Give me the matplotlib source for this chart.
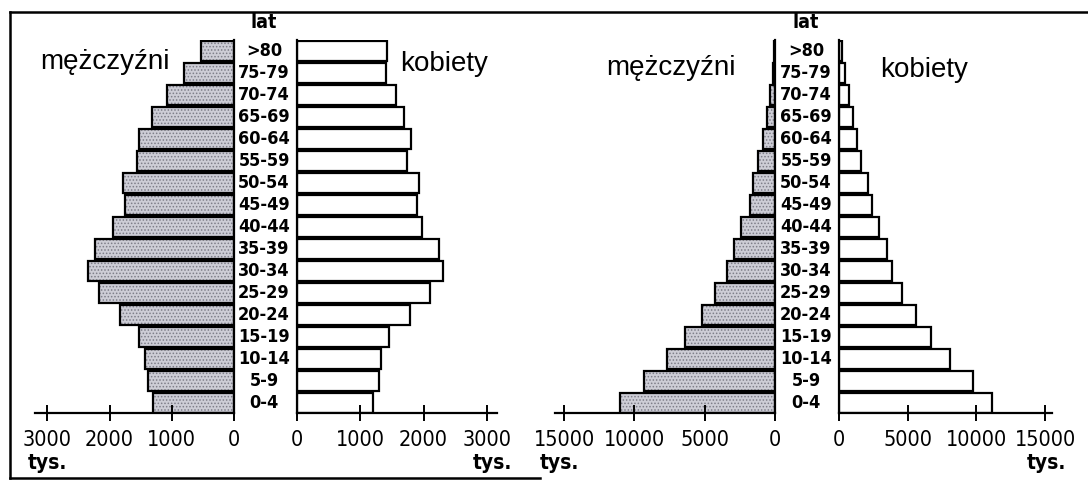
import matplotlib.pyplot as plt
import matplotlib.transforms as mtransforms
from matplotlib.lines import Line2D

plt.rcParams['hatch.linewidth'] = 0.7

# age groups, bottom to top
ages = ["0-4", "5-9", "10-14", "15-19", "20-24", "25-29", "30-34", "35-39",
        "40-44", "45-49", "50-54", "55-59", "60-64", "65-69", "70-74",
        "75-79", ">80"]

# left pyramid (tys.)
men_a = [1300, 1385, 1430, 1530, 1840, 2170, 2340, 2240, 1950, 1750,
         1790, 1555, 1530, 1320, 1080, 800, 530]
women_a = [1200, 1300, 1330, 1450, 1780, 2100, 2300, 2250, 1980, 1890,
           1930, 1740, 1800, 1690, 1570, 1400, 1420]

# right pyramid (tys.)
men_b = [11000, 9300, 7700, 6400, 5200, 4300, 3400, 2900, 2400, 1800,
         1550, 1200, 850, 550, 380, 150, 60]
women_b = [11100, 9750, 8100, 6700, 5600, 4600, 3850, 3500, 2900, 2400,
           2100, 1600, 1300, 1000, 750, 420, 200]

ticks_a = [0, 1000, 2000, 3000]
ticks_b = [0, 5000, 10000, 15000]

W, H = 1088, 482
fig = plt.figure(figsize=(W / 100, H / 100), dpi=100)

NARROW = dict(family='DejaVu Sans', stretch='condensed')
REG = ['Liberation Sans', 'DejaVu Sans']


def px_axes(x0, x1, y_top, y_bot):
    return fig.add_axes([x0 / W, 1 - y_bot / H, (x1 - x0) / W, (y_bot - y_top) / H])


def side(ax, vals, xmax, ticks, men):
    ypos = range(len(vals))
    ax.barh(ypos, vals, height=0.88, color='#cdcdd6' if men else 'white',
            edgecolor='#7d7d88' if men else 'white',
            hatch='.....' if men else None, linewidth=0)
    ax.barh(ypos, vals, height=0.88, fill=False, edgecolor='black', linewidth=1.6)
    ax.set_ylim(-0.46, len(vals) - 0.5)
    if men:
        ax.set_xlim(xmax, 0)
    else:
        ax.set_xlim(0, xmax)
    for s in ['top', 'left', 'right']:
        ax.spines[s].set_visible(False)
    ax.spines['bottom'].set_linewidth(1.6)
    keep = 'right' if men else 'left'
    ax.spines[keep].set_visible(True)
    ax.spines[keep].set_linewidth(1.6)
    ax.set_yticks([])
    ax.set_xticks(ticks)
    ax.set_xticklabels([str(t) for t in ticks])
    ax.tick_params(axis='x', direction='inout', length=12, width=1.4, pad=6,
                   labelsize=15.5)
    for lab in ax.get_xticklabels():
        lab.set_family(NARROW['family'])
        lab.set_stretch(NARROW['stretch'])
    ax.patch.set_alpha(0)


top, bot = 40, 413

# left pyramid
ax1 = px_axes(35, 234, top, bot)
side(ax1, men_a, 3200, ticks_a, True)
ax2 = px_axes(297, 497, top, bot)
side(ax2, women_a, 3160, ticks_a, False)

# right pyramid
ax3 = px_axes(555, 775, top, bot)
side(ax3, men_b, 15650, ticks_b, True)
ax4 = px_axes(839, 1052, top, bot)
side(ax4, women_b, 15500, ticks_b, False)

# age labels
for ax, xc in [(ax1, 264), (ax3, 806)]:
    tr = mtransforms.blended_transform_factory(fig.transFigure, ax.transData)
    for i, a in enumerate(ages):
        fig.text(xc / W, i, a, transform=tr, ha='center', va='center',
                 fontsize=13, fontweight='bold', **NARROW)
    fig.text(xc / W, 1 - 23 / H, 'lat', ha='center', va='center',
             fontsize=14, fontweight='bold', **NARROW)

fig.text(40 / W, 1 - 62 / H, 'mężczyźni', ha='left', va='center', fontsize=20, family=REG)
fig.text(400 / W, 1 - 64 / H, 'kobiety', ha='left', va='center', fontsize=20, family=REG)
fig.text(606 / W, 1 - 68 / H, 'mężczyźni', ha='left', va='center', fontsize=20, family=REG)
fig.text(880 / W, 1 - 70 / H, 'kobiety', ha='left', va='center', fontsize=20, family=REG)

for x, ha in [(28, 'left'), (512, 'right'), (540, 'left'), (1066, 'right')]:
    fig.text(x / W, 1 - 463 / H, 'tys.', ha=ha, va='center', fontsize=15,
             fontweight='bold', **NARROW)

# frame
for xs, ys in [([10, 1088], [12, 12]), ([10, 10], [12, 478]), ([10, 540], [478, 478])]:
    fig.add_artist(Line2D([x / W for x in xs], [1 - y / H for y in ys],
                          color='black', linewidth=1.8, transform=fig.transFigure))

fig.savefig('out.png', dpi=100)
